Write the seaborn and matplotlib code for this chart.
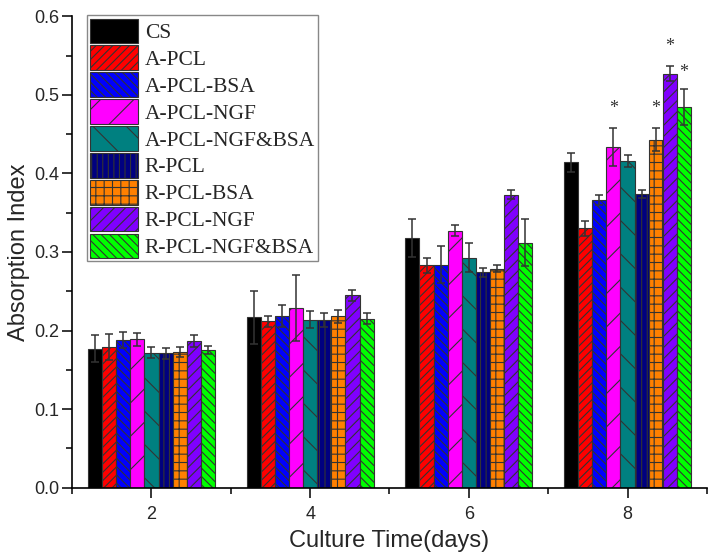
import pandas as pd
import numpy as np
import matplotlib
matplotlib.use('Agg')
import matplotlib.pyplot as plt
import seaborn as sns
from matplotlib.ticker import MultipleLocator, FixedLocator, FormatStrFormatter

# data
days = [2, 4, 6, 8]
samples = ['CS', 'A-PCL', 'A-PCL-BSA', 'A-PCL-NGF', 'A-PCL-NGF&BSA',
           'R-PCL', 'R-PCL-BSA', 'R-PCL-NGF', 'R-PCL-NGF&BSA']

cs = [0.177, 0.217, 0.318, 0.414]
a_pcl = [0.179, 0.212, 0.283, 0.330]
a_pcl_bsa = [0.188, 0.219, 0.284, 0.366]
a_pcl_ngf = [0.189, 0.229, 0.327, 0.434]
a_pcl_ngf_bsa = [0.172, 0.214, 0.293, 0.416]
r_pcl = [0.171, 0.214, 0.274, 0.374]
r_pcl_bsa = [0.173, 0.218, 0.279, 0.443]
r_pcl_ngf = [0.187, 0.245, 0.373, 0.527]
r_pcl_ngf_bsa = [0.175, 0.215, 0.312, 0.485]

cs_err = [0.017, 0.034, 0.024, 0.012]
a_pcl_err = [0.017, 0.007, 0.010, 0.010]
a_pcl_bsa_err = [0.010, 0.014, 0.024, 0.006]
a_pcl_ngf_err = [0.008, 0.042, 0.007, 0.024]
a_pcl_ngf_bsa_err = [0.007, 0.011, 0.019, 0.008]
r_pcl_err = [0.007, 0.009, 0.006, 0.005]
r_pcl_bsa_err = [0.006, 0.008, 0.004, 0.015]
r_pcl_ngf_err = [0.008, 0.007, 0.006, 0.010]
r_pcl_ngf_bsa_err = [0.005, 0.007, 0.030, 0.023]

# significance marks on day 8
star_samples = ['A-PCL-NGF', 'R-PCL-BSA', 'R-PCL-NGF', 'R-PCL-NGF&BSA']
star_y = [0.483, 0.483, 0.561, 0.529]

values = [cs, a_pcl, a_pcl_bsa, a_pcl_ngf, a_pcl_ngf_bsa, r_pcl, r_pcl_bsa, r_pcl_ngf, r_pcl_ngf_bsa]
errors = [cs_err, a_pcl_err, a_pcl_bsa_err, a_pcl_ngf_err, a_pcl_ngf_bsa_err,
          r_pcl_err, r_pcl_bsa_err, r_pcl_ngf_err, r_pcl_ngf_bsa_err]

colors = ['#000000', '#ff0000', '#0000ff', '#ff00ff', '#008080',
          '#000080', '#ff8000', '#8000ff', '#00ff00']
hatches = ['', '////', '\\\\\\\\', '/', '\\', '|||', '++', '///', '\\\\\\\\']

rows = []
for s, v in zip(samples, values):
    for d, y in zip(days, v):
        rows.append({'day': d, 'sample': s, 'value': y})
df = pd.DataFrame(rows)

sns.set_style('ticks')
plt.rcParams['font.family'] = ['Liberation Sans', 'DejaVu Sans']
plt.rcParams['hatch.linewidth'] = 0.8

fig, ax = plt.subplots(figsize=(7.14, 5.6), dpi=100)
fig.subplots_adjust(left=0.101, right=0.990, bottom=0.129, top=0.971)

sns.barplot(data=df, x='day', y='value', hue='sample', hue_order=samples,
            palette=colors, saturation=1, errorbar=None, width=0.8,
            edgecolor='#333333', linewidth=0.8, legend=False, ax=ax)

bars = list(ax.containers)
for i, cont in enumerate(bars):
    for b in cont:
        b.set_hatch(hatches[i])
    xs = [b.get_x() + b.get_width() / 2 for b in cont]
    ax.errorbar(xs, values[i], yerr=errors[i], fmt='none', ecolor='#333333',
                elinewidth=1.1, capsize=3.2, capthick=1.1)

# stars above bars
for s, y in zip(star_samples, star_y):
    b = bars[samples.index(s)][3]
    ax.text(b.get_x() + b.get_width() / 2, y, '*', ha='center', va='center',
            fontsize=13, family=['Liberation Serif'], color='#333333')

leg = ax.legend(bars, samples, loc='upper left', bbox_to_anchor=(0.023, 1.002),
                borderaxespad=0, fancybox=False, edgecolor='#888888', framealpha=1,
                prop={'family': ['Liberation Serif'], 'size': 15.5},
                handlelength=2.25, handleheight=1.39, labelspacing=0.1,
                handletextpad=0.3, borderpad=0.15)
leg.get_frame().set_linewidth(1.0)

ax.set_xlim(-0.5, 3.5)
ax.set_xticks(range(len(days)))
ax.set_xticklabels([str(d) for d in days])
ax.xaxis.set_minor_locator(FixedLocator([-0.5, 0.5, 1.5, 2.5, 3.5]))
ax.set_ylim(0, 0.6)
ax.yaxis.set_major_locator(MultipleLocator(0.1))
ax.yaxis.set_minor_locator(MultipleLocator(0.05))
ax.yaxis.set_major_formatter(FormatStrFormatter('%.1f'))

sns.despine(ax=ax)
for sp in ['left', 'bottom']:
    ax.spines[sp].set_linewidth(1.2)
    ax.spines[sp].set_color('black')

ax.tick_params(which='major', length=7, width=1.1, labelsize=13, direction='out', color='black')
ax.tick_params(which='minor', length=4, width=1.1, direction='out', color='black')
ax.tick_params(axis='y', which='major', pad=2)
ax.tick_params(axis='x', which='major', pad=6)

ax.set_xlabel('Culture Time(days)', fontsize=17, labelpad=5)
ax.set_ylabel('Absorption Index', fontsize=17, labelpad=3)

fig.savefig('out.png', dpi=100)
